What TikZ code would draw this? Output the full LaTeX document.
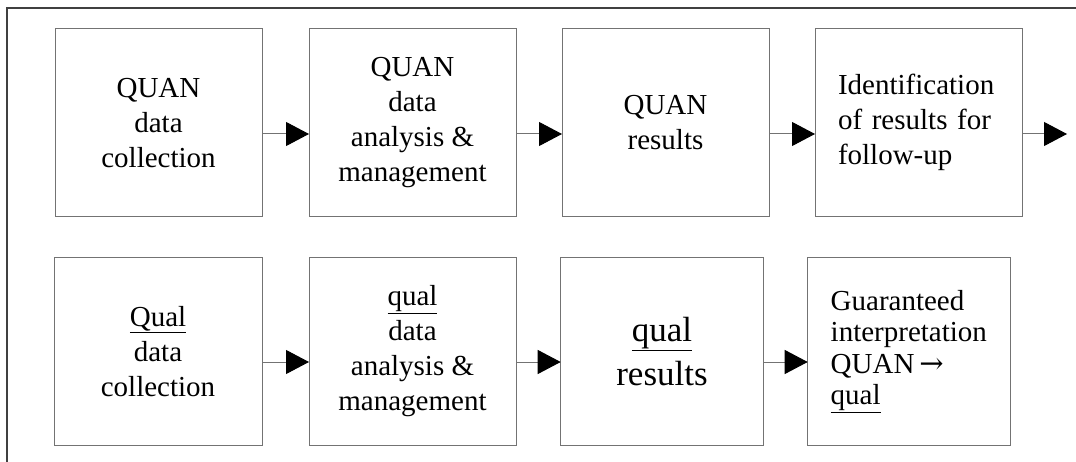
\documentclass[tikz,border=0pt]{standalone}
\usepackage{fontspec}
\setmainfont{Liberation Serif}
\newfontfamily\arrowfont{DejaVu Serif}
\usetikzlibrary{arrows.meta}
\newcommand{\rarrowsym}{{\arrowfont\,→}}
\begin{document}
\begin{tikzpicture}[x=1pt,y=-1pt,
  box/.style={draw=black!55, line width=1pt, inner sep=0pt, outer sep=0pt, align=center,
    font=\fontsize{29}{35}\selectfont},
  toprow/.style={minimum height=188.5pt},
  botrow/.style={minimum height=187pt},
  flow/.style={draw=black!55, line width=1pt, -{Triangle[length=23pt,width=24pt,color=black]}}]
\useasboundingbox (0,0) rectangle (1076,462);
\draw[black!75, line width=1.3pt] (7,462) -- (7,8) -- (1076,8);
% top row
\node[box, toprow, minimum width=207pt] (a1) at (158.5,122.75) {QUAN\\data\\collection};
\node[box, toprow, minimum width=207pt] (a2) at (412.5,122.75) {QUAN\\data\\analysis \&\\management};
\node[box, toprow, minimum width=207pt] (a3) at (665.5,122.75) {QUAN\\results};
\node[box, toprow, minimum width=207pt, text width=161pt, align=left] (a4) at (918.5,122.75) {Identification\\of results for\\follow-up};
\coordinate (aout) at (1067,134);
\draw[flow] ([yshift=-11.25pt]a1.east) -- ([yshift=-11.25pt]a2.west);
\draw[flow] ([yshift=-11.25pt]a2.east) -- ([yshift=-11.25pt]a3.west);
\draw[flow] ([yshift=-11.25pt]a3.east) -- ([yshift=-11.25pt]a4.west);
\draw[flow] ([yshift=-11.25pt]a4.east) -- (aout);
% bottom row
\node[box, botrow, minimum width=208pt] (b1) at (158,351.5) {\underline{Qual}\\data\\collection};
\node[box, botrow, minimum width=207pt] (b2) at (412.5,351.5) {\underline{qual}\\data\\analysis \&\\management};
\node[box, botrow, minimum width=202.6pt, font=\fontsize{35}{44}\selectfont] (b3) at (662,351.5) {\underline{qual}\\results};
\node[box, botrow, minimum width=203pt, text width=157pt, align=left, font=\fontsize{29}{31.5}\selectfont] (b4) at (909.2,351.5) {Guaranteed\\interpretation\\QUAN\rarrowsym\\\underline{qual}};
\draw[flow] ([yshift=-10.5pt]b1.east) -- ([yshift=-10.5pt]b2.west);
\draw[flow] ([yshift=-10.5pt]b2.east) -- ([yshift=-10.5pt]b3.west);
\draw[flow] ([yshift=-10.5pt]b3.east) -- ([yshift=-10.5pt]b4.west);
\end{tikzpicture}
\end{document}
